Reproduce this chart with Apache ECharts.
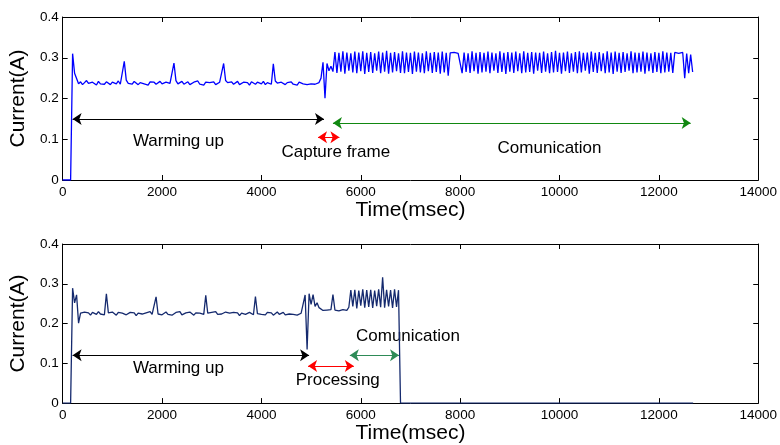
<!DOCTYPE html>
<html>
<head>
<meta charset="utf-8">
<script src="https://cdn.jsdelivr.net/npm/echarts@6/dist/echarts.min.js"></script>
<style>
  html, body { margin: 0; padding: 0; background: #fff; }
  #chart { width: 780px; height: 445px; }
</style>
</head>
<body>
<div id="chart"></div>
<script>
// sample spacing of the traces (msec)
var STEP = 40;

// upper trace: current in mA, one value every STEP msec starting at 0
var topCurrent_mA = [
  0, 0, 0, 0, 0, 310, 262, 266,
  236, 241, 234, 239, 244, 237, 235, 240, 238, 233, 242, 236, 239, 235, 241, 237, 234, 240, 238, 236, 243, 235, 239,
  291, 245,
  237, 240, 235, 242, 238, 234, 239, 243, 236, 238, 233, 241, 237, 240, 235, 239, 242, 236, 234, 240, 238, 237, 241,
  287, 244,
  236, 239, 242, 235, 238, 241, 234, 237, 240, 236, 243, 235, 238, 233, 240, 237, 239, 236, 241, 234, 238, 240, 236,
  286, 244,
  239, 236, 241, 235, 238, 242, 234, 237, 240, 236, 239, 233, 241, 238, 235, 240, 237, 236, 242, 234, 239, 237, 235,
  285, 243,
  238, 235, 240, 237, 234, 239, 236, 241, 235, 238, 233, 240, 237, 236, 239, 234, 238, 236, 240, 235, 237, 239,
  250, 289, 201, 286, 268, 279, 266,
  314, 263, 312, 266, 316, 261, 313, 268, 311, 264,
  315, 262, 313, 267, 316, 260, 312, 265, 314, 263,
  311, 268, 315, 262, 313, 266, 317, 261, 312, 264,
  314, 267, 311, 263, 316, 262, 313, 265, 312, 260,
  315, 266, 313, 264, 311, 262, 316, 267, 312, 263,
  314, 265, 313, 261, 315, 264, 312,
  256, 312, 311, 313, 312, 311, 312,
  262, 313, 265, 311, 263, 316, 267, 312, 261, 314,
  264, 312, 266, 315, 262, 313, 268, 311, 263, 316,
  265, 312, 260, 314, 266, 313, 263, 315, 267, 311,
  262, 316, 264, 312, 265, 314, 261, 313, 268, 312,
  263, 315, 266, 311, 262, 314, 264, 317, 265, 312,
  261, 313, 267, 315, 263, 311, 266, 314, 262, 316,
  264, 312, 268, 313, 261, 315, 265, 312, 263, 314,
  267, 311, 262, 316, 264, 313, 260, 315, 266, 312,
  263, 314, 265, 311, 268, 316, 262, 313, 264, 312,
  266, 315, 261, 313, 267, 311, 263, 314, 265, 312,
  262, 316, 264, 313, 266, 312, 263,
  313, 312, 311, 312, 313,
  250, 310, 262, 308, 265
];

// lower trace: current in mA, one value every STEP msec starting at 0
var bottomCurrent_mA = [
  0, 0, 0, 0, 0, 289, 252, 272, 201,
  226, 222, 229, 224, 227, 221, 228, 225, 223, 230, 224, 227, 222,
  275,
  227, 223, 229, 225, 221, 228, 224, 226, 230, 222, 225, 228, 223, 227, 220, 226, 229, 224, 222, 227, 225, 230, 223, 226,
  267,
  224, 228, 222, 226, 229, 223, 227, 221, 225, 228, 224, 230, 222, 226, 227, 223, 229, 225, 221, 227, 224, 226, 228, 223,
  271,
  226, 222, 228, 225, 230, 223, 227, 224, 221, 229, 225, 226, 222, 228, 224, 227, 220, 226, 229, 223, 225, 228, 224, 222,
  268,
  225, 229, 223, 226, 222, 228, 224, 227, 221, 226, 229, 223, 225, 228, 222, 226, 224, 227, 223, 225, 221, 224, 226, 222,
  272, 135, 275, 248, 273, 243, 252, 240,
  236, 233, 238, 234, 237, 235,
  273,
  234, 237, 232, 236, 235, 238, 233, 241,
  284, 243, 285, 238, 283, 245, 286, 240, 284, 242,
  285, 239, 283, 244, 286, 241, 316, 240, 285, 243,
  284, 239, 286, 242, 284,
  0
];
// lower trace stays at zero until this time (msec)
var bottomEndTime = 12690;

// annotation arrows: [from msec, to msec, current A]
var topArrows = [[200, 5260, 0.15], [5140, 5570, 0.105], [5440, 12640, 0.14]];
var bottomArrows = [[200, 4960, 0.12], [4940, 5860, 0.093], [5780, 6770, 0.12]];

// annotation texts: [msec, current A, text]
var topNotes = [[2330, 0.095, 'Warming up'], [5497, 0.067, 'Capture frame'], [9800, 0.077, 'Comunication']];
var bottomNotes = [[2330, 0.088, 'Warming up'], [5537, 0.058, 'Processing'], [6950, 0.169, 'Comunication']];

var xTicks = { min: 0, max: 14000, interval: 2000 };
var yTicks = { min: 0, max: 0.4, interval: 0.1 };

var FONT = '"Liberation Sans", Arial, Helvetica, sans-serif';

function toPoints(arr) {
  return arr.map(function (v, i) { return [i * STEP, v / 1000]; });
}

var topData = toPoints(topCurrent_mA);
var bottomData = toPoints(bottomCurrent_mA);
bottomData.push([bottomEndTime, 0]);

var grids = [
  { left: 58, top: 17, width: 703, height: 163 },
  { left: 58, top: 244, width: 703, height: 163 }
];

var xAxes = [], yAxes = [];
grids.forEach(function (g, gi) {
  xAxes.push({
    gridIndex: gi, type: 'value', min: xTicks.min, max: xTicks.max, interval: xTicks.interval,
    name: 'Time(msec)', nameLocation: 'middle', nameGap: 17,
    nameTextStyle: { fontSize: 21, color: '#000', fontFamily: FONT },
    axisLine: { onZero: false, lineStyle: { color: '#000', width: 1 } },
    axisTick: { inside: true, length: 5, lineStyle: { color: '#000' } },
    axisLabel: { color: '#000', fontSize: 13.5, margin: 5, fontFamily: FONT, formatter: function (v) { return String(v); } },
    splitLine: { show: false }
  });
  xAxes.push({
    gridIndex: gi, type: 'value', position: 'top', min: xTicks.min, max: xTicks.max, interval: xTicks.interval,
    axisLine: { onZero: false, lineStyle: { color: '#000', width: 1 } },
    axisTick: { inside: true, length: 5, lineStyle: { color: '#000' } },
    axisLabel: { show: false }, splitLine: { show: false }
  });
  yAxes.push({
    gridIndex: gi, type: 'value', min: yTicks.min, max: yTicks.max, interval: yTicks.interval,
    name: 'Current(A)', nameLocation: 'middle', nameGap: 27, nameRotate: 90,
    nameTextStyle: { fontSize: 21, color: '#000', fontFamily: FONT },
    axisLine: { onZero: false, lineStyle: { color: '#000', width: 1 } },
    axisTick: { inside: true, length: 5, lineStyle: { color: '#000' } },
    axisLabel: { color: '#000', fontSize: 13.5, margin: 4, fontFamily: FONT },
    splitLine: { show: false }
  });
  yAxes.push({
    gridIndex: gi, type: 'value', position: 'right', min: yTicks.min, max: yTicks.max, interval: yTicks.interval,
    axisLine: { onZero: false, lineStyle: { color: '#000', width: 1 } },
    axisTick: { inside: true, length: 5, lineStyle: { color: '#000' } },
    axisLabel: { show: false }, splitLine: { show: false }
  });
});

function arrowSeries(gi, arrows, colors) {
  return {
    type: 'line', xAxisIndex: gi * 2, yAxisIndex: gi * 2, data: [], silent: true,
    markLine: {
      silent: true, animation: false,
      symbol: ['arrow', 'arrow'], symbolSize: 9,
      label: { show: false },
      data: arrows.map(function (a, k) {
        return [
          { coord: [a[0], a[2]], lineStyle: { color: colors[k], width: 1, type: 'solid' }, itemStyle: { color: colors[k] } },
          { coord: [a[1], a[2]] }
        ];
      })
    }
  };
}

function noteSeries(gi, notes) {
  return {
    type: 'scatter', xAxisIndex: gi * 2, yAxisIndex: gi * 2, symbolSize: 0, silent: true,
    itemStyle: { opacity: 1 },
    data: notes.map(function (n) { return { value: [n[0], n[1]], name: n[2] }; }),
    label: {
      show: true, position: 'inside', color: '#000', opacity: 1, fontSize: 17, fontFamily: FONT,
      formatter: function (p) { return p.name; }
    }
  };
}

var chart = echarts.init(document.getElementById('chart'));
chart.setOption({
  animation: false,
  backgroundColor: '#fff',
  grid: grids,
  xAxis: xAxes,
  yAxis: yAxes,
  series: [
    {
      type: 'line', xAxisIndex: 0, yAxisIndex: 0, data: topData, showSymbol: false,
      lineStyle: { color: '#0000ff', width: 1.3 }, itemStyle: { color: '#0000ff' }
    },
    {
      type: 'line', xAxisIndex: 2, yAxisIndex: 2, data: bottomData, showSymbol: false,
      lineStyle: { color: '#152a6e', width: 1.3 }, itemStyle: { color: '#152a6e' }
    },
    arrowSeries(0, topArrows, ['#000000', '#ff0000', '#118811']),
    arrowSeries(1, bottomArrows, ['#000000', '#ff0000', '#2e8b57']),
    noteSeries(0, topNotes),
    noteSeries(1, bottomNotes)
  ]
});
</script>
</body>
</html>
